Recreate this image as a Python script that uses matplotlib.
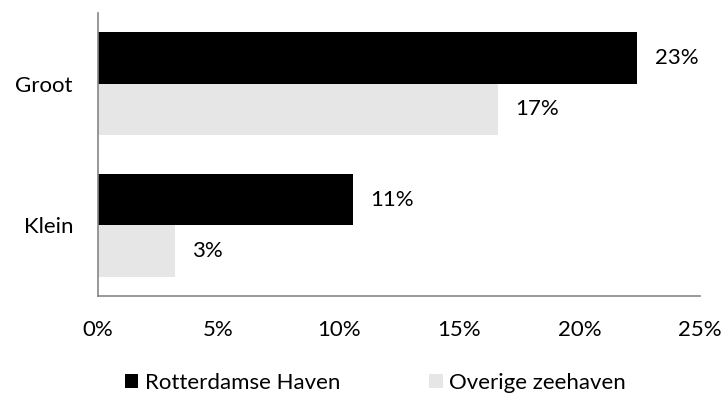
import matplotlib.pyplot as plt
import numpy as np

plt.rcParams['font.family'] = ['Lato', 'DejaVu Sans']

categories = ["Klein", "Groot"]
rotterdam = [10.6, 22.4]
overige = [3.2, 16.6]
rotterdam_labels = ["11%", "23%"]
overige_labels = ["3%", "17%"]
xticks = [0, 5, 10, 15, 20, 25]

fs = 16

fig = plt.figure(figsize=(7.22, 4.01), dpi=100)
ax = fig.add_axes([98 / 722, 1 - 296 / 401, (700 - 98) / 722, (296 - 13) / 401])

y = np.arange(len(categories))
h = 0.363
ax.barh(y + h / 2, rotterdam, height=h, color="black", label="Rotterdamse Haven")
ax.barh(y - h / 2, overige, height=h, color="#e6e6e6", label="Overige zeehaven")

for yi, v, lab in zip(y, rotterdam, rotterdam_labels):
    ax.text(v + 0.72, yi + h / 2, lab, va="center", ha="left", fontsize=fs)
for yi, v, lab in zip(y, overige, overige_labels):
    ax.text(v + 0.72, yi - h / 2, lab, va="center", ha="left", fontsize=fs)

ax.set_xlim(0, 25)
ax.set_ylim(-0.5, 1.5)
ax.set_xticks(xticks)
ax.set_xticklabels([f"{t}%" for t in xticks], fontsize=fs)
ax.set_yticks(y)
ax.set_yticklabels(categories, fontsize=fs)
ax.tick_params(length=0)
ax.tick_params(axis="x", pad=17)
ax.tick_params(axis="y", pad=18)

for s in ["top", "right"]:
    ax.spines[s].set_visible(False)
for s in ["left", "bottom"]:
    ax.spines[s].set_color("#868686")
    ax.spines[s].set_linewidth(1.2)

fig.legend(loc="lower center", bbox_to_anchor=(0.52, -0.03), ncol=2, frameon=False,
           fontsize=fs, handlelength=0.6, handleheight=0.6, handletextpad=0.3,
           columnspacing=4.0)

plt.savefig("out.png", dpi=100)
